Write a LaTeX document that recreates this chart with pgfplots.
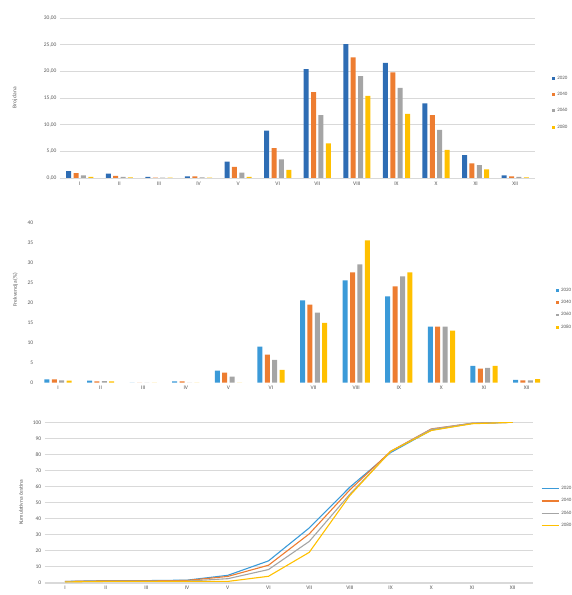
\documentclass[border=0pt]{standalone}
\usepackage{pgfplots}
\pgfplotsset{compat=1.18}
\usepackage{fontspec}
\setmainfont{Carlito}
\definecolor{cblue}{HTML}{2E6DB4}
\definecolor{cblue2}{HTML}{3B9AD8}
\definecolor{corange}{HTML}{ED7D31}
\definecolor{cgray}{HTML}{A5A5A5}
\definecolor{cyellow}{HTML}{FFC000}
\definecolor{txt}{HTML}{595959}
\definecolor{gridc}{HTML}{D9D9D9}

\pgfplotstableread{
x s1 s2 s3 s4
0 1.3 0.9 0.5 0.2
1 0.8 0.4 0.2 0.1
2 0.2 0.05 0.05 0.05
3 0.3 0.3 0.1 0.05
4 3.05 2.1 1.0 0.2
5 8.9 5.6 3.5 1.5
6 20.4 16.1 11.8 6.5
7 25.1 22.6 19.1 15.4
8 21.6 19.8 16.9 12.0
9 14.0 11.8 9.0 5.25
10 4.3 2.75 2.4 1.6
11 0.5 0.3 0.2 0.1
}\topdata

\pgfplotstableread{
x s1 s2 s3 s4
0 0.8 0.8 0.6 0.5
1 0.5 0.3 0.4 0.3
2 0.0 0.0 0.0 0.0
3 0.3 0.3 0.0 0.0
4 3.0 2.5 1.5 0.0
5 9.0 7.0 5.7 3.2
6 20.5 19.5 17.5 14.9
7 25.5 27.5 29.5 35.5
8 21.5 24.0 26.5 27.5
9 14.0 14.0 14.0 13.0
10 4.2 3.5 3.7 4.2
11 0.7 0.6 0.6 0.9
}\middata

\pgfplotstableread{
x s1 s2 s3 s4
0 0.8 0.8 0.6 0.5
1 1.3 1.1 1.0 0.8
2 1.3 1.1 1.0 0.8
3 1.6 1.4 1.0 0.8
4 4.6 3.9 2.5 0.8
5 13.6 10.9 8.2 4.0
6 34.1 30.4 25.7 18.9
7 59.6 57.9 55.2 54.4
8 81.1 81.9 81.7 81.9
9 95.1 95.9 95.7 94.9
10 99.3 99.4 99.4 99.1
11 100 100 100 100
}\cumdata

\pgfplotsset{
  base/.style={
    scale only axis,
    xmin=-0.5, xmax=11.5,
    xtick={0,...,11},
    xticklabels={I,II,III,IV,V,VI,VII,VIII,IX,X,XI,XII},
    axis lines*=left,
    y axis line style={draw=none},
    x axis line style={draw=gridc},
    major tick length=0pt,
    tick label style={font=\fontsize{5.5}{6.5}\selectfont, text=txt},
    label style={font=\fontsize{5.5}{6.5}\selectfont, text=txt},
    /pgf/number format/assume math mode=true,
    legend style={draw=none, fill=none, font=\fontsize{5}{6}\selectfont, text=txt,
      legend cell align=left, anchor=west},
  },
  barstyle/.style={
    ybar=2.4pt, bar width=5pt,
    legend image code/.code={\fill[##1] (0pt,-1.4pt) rectangle (2.8pt,1.4pt);},
  },
}

\begin{document}
\begin{tikzpicture}
\useasboundingbox (0,0) rectangle (572pt,595pt);

% ---------- top panel ----------
\begin{axis}[base, barstyle,
  at={(60pt,417pt)}, anchor=south west,
  width=475pt, height=160pt,
  ymin=0, ymax=30, ytick={0,5,...,30},
  ymajorgrids, grid style={gridc, line width=0.5pt},
  yticklabel style={/pgf/number format/.cd, fixed, fixed zerofill, precision=2, use comma},
  ylabel={Broj dana},
  ylabel style={at={(axis description cs:-0.095,0.5)}, anchor=center},
  legend style={at={(1.03,0.47)}, row sep=7.5pt},
]
\addplot[fill=cblue, draw=none] table[x=x,y=s1]{\topdata};
\addplot[fill=corange, draw=none] table[x=x,y=s2]{\topdata};
\addplot[fill=cgray, draw=none] table[x=x,y=s3]{\topdata};
\addplot[fill=cyellow, draw=none] table[x=x,y=s4]{\topdata};
\legend{2020,2040,2060,2080}
\end{axis}

% ---------- middle panel ----------
\begin{axis}[base, barstyle,
  at={(36.7pt,212.3pt)}, anchor=south west,
  width=511.2pt, height=160.4pt,
  ymin=0, ymax=40, ytick={0,5,...,40},
  x axis line style={draw=none},
  ylabel={Frekvencija (\%)},
  ylabel style={at={(axis description cs:-0.042,0.58)}, anchor=center},
  legend style={at={(1.01,0.46)}, row sep=3.5pt},
]
\addplot[fill=cblue2, draw=none] table[x=x,y=s1]{\middata};
\addplot[fill=corange, draw=none] table[x=x,y=s2]{\middata};
\addplot[fill=cgray, draw=none] table[x=x,y=s3]{\middata};
\addplot[fill=cyellow, draw=none] table[x=x,y=s4]{\middata};
\legend{2020,2040,2060,2080}
\end{axis}

% ---------- bottom panel ----------
\begin{axis}[base,
  at={(44.65pt,12.3pt)}, anchor=south west,
  width=488.4pt, height=160.4pt,
  ymin=0, ymax=100, ytick={0,10,...,100},
  ymajorgrids, grid style={gridc, line width=0.5pt},
  ylabel={Kumulativna čestina},
  ylabel style={at={(axis description cs:-0.0485,0.5)}, anchor=center},
  legend style={at={(1.01,0.47)}, row sep=3.5pt},
]
\addplot[cblue2, line width=1.1pt] table[x=x,y=s1]{\cumdata};
\addplot[corange, line width=1.1pt] table[x=x,y=s2]{\cumdata};
\addplot[cgray, line width=1.1pt] table[x=x,y=s3]{\cumdata};
\addplot[cyellow, line width=1.1pt] table[x=x,y=s4]{\cumdata};
\legend{2020,2040,2060,2080}
\end{axis}
\end{tikzpicture}
\end{document}
